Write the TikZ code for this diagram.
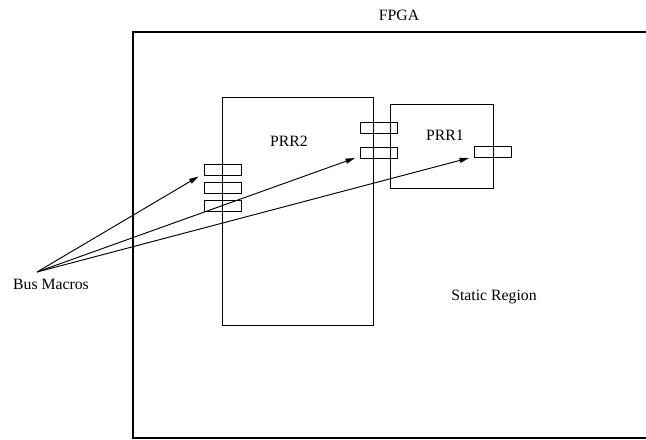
\documentclass[tikz,border=0pt]{standalone}
\usepackage{fontspec}
\setmainfont{Liberation Serif}
\usetikzlibrary{arrows.meta, positioning, fit}

\begin{document}
\begin{tikzpicture}[
    x=0.635pt, y=-0.635pt,
    region/.style={
        rectangle,
        draw,
        line width=0.6pt,
        inner sep=0pt
    },
    busmacro/.style={
        rectangle,
        draw,
        fill=white,
        fill opacity=0,
        line width=0.6pt,
        minimum width=23.5pt,
        minimum height=7pt,
        inner sep=0pt
    },
    label/.style={
        inner sep=0pt,
        font=\normalsize
    },
    arrow/.style={-{Triangle[length=6pt, width=3.2pt]}, line width=0.6pt}
]

\useasboundingbox (0,0) rectangle (646,439);
\clip (0,0) rectangle (646,439);

% FPGA outline (runs off the right edge)
\draw[line width=1.3pt] (133,32) rectangle (720,438);
\node (fpga) [label] at (399,15) {FPGA};

% Reconfigurable regions
\node (prr2) [region, fit={(222,97) (373,325)}] {};
\node (prr1) [region, fit={(390,104) (493,188)}] {};

\node (prr2lbl) [label] at (289,141) {PRR2};
\node (prr1lbl) [label] at (445,135) {PRR1};
\node (static) [label] at (494,297) {Static Region};

% Bus macros
\node (bmA) [busmacro] at (222.5,169.5) {};
\node (bmB) [busmacro, below=4pt of bmA] {};
\node (bmC) [busmacro, below=4pt of bmB] {};

\node (bmD) [busmacro] at (378.5,127.5) {};
\node (bmE) [busmacro, below=8.5pt of bmD] {};

\node (bmF) [busmacro] at (492.5,151.5) {};

% Bus macro labels and pointers
\node (bus) [label] at (51,284) {Bus Macros};
\coordinate (src) at (37,272);
\coordinate (tipA) at (198.5,176.5);
\coordinate (tipE) at (355,158);
\coordinate (tipF) at (469,158);

\draw[arrow] (src) -- (tipA);
\draw[arrow] (src) -- (tipE);
\draw[arrow] (src) -- (tipF);

\end{tikzpicture}
\end{document}
